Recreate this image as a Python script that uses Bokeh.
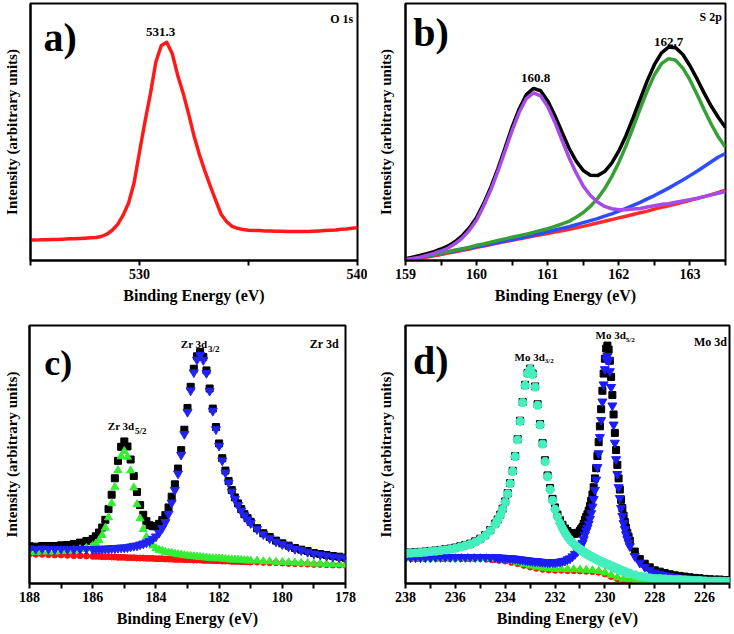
from bokeh.plotting import figure
from bokeh.layouts import column, row
from bokeh.models import Range1d, FixedTicker, Label
from bokeh.embed import file_html
from bokeh.resources import INLINE

SERIF = "'Liberation Serif', 'Times New Roman', serif"

# ---------------- panel a : O 1s ----------------
a_energy = [525.0, 525.25, 525.5, 525.75, 526.0, 526.25, 526.5, 526.75, 527.0, 527.25,
            527.5, 527.75, 528.0, 528.25, 528.5, 528.75, 529.0, 529.25, 529.5, 529.75,
            530.0, 530.25, 530.5, 530.75, 531.0, 531.25, 531.5, 531.75, 532.0, 532.25,
            532.5, 532.75, 533.0, 533.25, 533.5, 533.75, 534.0, 534.25, 534.5, 534.75,
            535.0, 535.25, 535.5, 535.75, 536.0, 536.25, 536.5, 536.75, 537.0, 537.25,
            537.5, 537.75, 538.0, 538.25, 538.5, 538.75, 539.0, 539.25, 539.5, 539.75, 540.0]
a_o1s = [62, 62, 63, 63, 64, 64, 65, 66, 66, 67,
         68, 69, 70, 73, 80, 92, 110, 138, 175, 236,
         330, 422, 507, 604, 654, 664, 630, 564, 510, 447,
         379, 322, 272, 226, 182, 140, 118, 104, 98, 94,
         92, 91, 91, 90, 90, 89, 89, 88, 88, 88,
         88, 88, 89, 90, 91, 92, 93, 95, 96, 98, 100]

# ---------------- panel b : S 2p ----------------
b_energy = [159.0, 159.1, 159.2, 159.3, 159.4, 159.5, 159.6, 159.7, 159.8, 159.9,
            160.0, 160.1, 160.2, 160.3, 160.4, 160.5, 160.6, 160.7, 160.8, 160.9,
            161.0, 161.1, 161.2, 161.3, 161.4, 161.5, 161.6, 161.7, 161.8, 161.9,
            162.0, 162.1, 162.2, 162.3, 162.4, 162.5, 162.6, 162.7, 162.8, 162.9,
            163.0, 163.1, 163.2, 163.3, 163.4, 163.5]
b_envelope = [5, 10, 15, 20, 26, 34, 43, 56, 74, 97, 127,
              169, 217, 272, 333, 395, 449, 491, 509, 502, 472,
              429, 380, 332, 294, 266, 252, 251, 263, 288, 324,
              369, 422, 477, 532, 579, 614, 631, 629, 609, 576,
              537, 495, 456, 423, 393]
b_s160 = [3, 6, 10, 15, 21, 28, 37, 50, 67, 90, 120,
          162, 209, 264, 324, 385, 439, 479, 496, 487, 455,
          409, 356, 304, 259, 220, 192, 173, 160, 153, 150,
          150, 152, 154, 158, 162, 166, 168, 172, 176, 180,
          184, 189, 194, 199, 204]
b_s162 = [2, 5, 10, 14, 18, 22, 26, 31, 35, 39, 45,
          49, 54, 59, 64, 69, 73, 78, 83, 89, 94,
          101, 108, 116, 128, 142, 160, 183, 212, 248, 290,
          339, 393, 449, 502, 549, 582, 597, 592, 569, 534,
          491, 446, 403, 365, 335]
b_bg_blue = [2, 5, 9, 13, 17, 21, 25, 29, 33, 37, 41,
             45, 49, 53, 58, 62, 66, 71, 75, 80, 85,
             90, 95, 100, 106, 112, 118, 124, 131, 138, 146,
             154, 163, 172, 182, 192, 203, 214, 226, 238, 251,
             264, 278, 292, 306, 316]
b_bg_red = [0, 2, 6, 10, 14, 18, 22, 26, 30, 34, 39,
            43, 47, 52, 56, 60, 64, 68, 72, 76, 80,
            84, 88, 92, 97, 101, 106, 111, 116, 121, 126,
            131, 136, 141, 146, 152, 157, 162, 167, 172, 178,
            183, 189, 195, 201, 208]

# ---------------- panel c : Zr 3d ----------------
c_energy = [178.0, 178.2, 178.4, 178.6, 178.8, 179.0, 179.2, 179.4, 179.6, 179.8,
            180.0, 180.2, 180.4, 180.6, 180.8,
            181.0, 181.1, 181.2, 181.3, 181.4, 181.5, 181.6, 181.7, 181.8, 181.9,
            182.0, 182.1, 182.2, 182.3, 182.4, 182.5, 182.6, 182.7, 182.8, 182.9,
            183.0, 183.1, 183.2, 183.3, 183.4, 183.5, 183.6, 183.7, 183.8, 183.9,
            184.0, 184.1, 184.2, 184.3, 184.4, 184.5, 184.6, 184.7, 184.8, 184.9,
            185.0, 185.1, 185.2, 185.3, 185.4, 185.5, 185.6, 185.7, 185.8, 185.9,
            186.0,
            186.2, 186.4, 186.6, 186.8, 187.0, 187.2, 187.4, 187.6, 187.8, 188.0]
c_total = [77, 80, 82, 85, 88, 91, 97, 101, 106, 113, 120, 128, 139, 150, 165,
           184, 195, 207, 222, 239, 257, 279, 306, 337, 374,
           418, 467, 522, 582, 636, 676, 691, 678, 641, 587,
           524, 459, 398, 343, 296, 259, 227, 204, 189, 178,
           171, 171, 174, 186, 205, 234, 273, 321, 370, 409,
           424, 408, 366, 314, 265, 222, 190, 167, 152, 141,
           133,
           127, 122, 118, 115, 114, 112, 112, 112, 110, 111]
c_zr32 = [75, 78, 80, 83, 86, 89, 94, 99, 103, 110, 117, 125, 135, 147, 162,
          180, 191, 203, 217, 234, 252, 274, 301, 331, 367,
          411, 460, 515, 575, 628, 667, 682, 668, 630, 576,
          512, 446, 384, 328, 279, 241, 208, 183, 165, 151,
          140, 133, 126, 122, 119, 116, 113, 112, 110, 108,
          107, 107, 106, 105, 105, 104, 104, 103, 103, 103,
          102,
          103, 103, 102, 102, 103, 102, 103, 104, 103, 104]
c_zr52 = [56, 57, 57, 58, 59, 59, 61, 61, 62, 63, 64, 64, 66, 66, 68,
          68, 69, 69, 70, 71, 71, 71, 72, 73, 74,
          75, 75, 75, 76, 77, 78, 79, 80, 81, 82,
          83, 84, 86, 87, 89, 91, 92, 94, 98, 100,
          105, 113, 123, 139, 162, 194, 236, 286, 337, 378,
          395, 379, 338, 288, 239, 197, 166, 144, 129, 119,
          112,
          106, 102, 99, 97, 96, 95, 95, 95, 94, 95]
c_bg = [54, 55, 55, 56, 57, 57, 58, 59, 59, 60, 61, 62, 62, 63, 64,
        64, 65, 65, 65, 66, 66, 66, 67, 67, 67,
        68, 68, 68, 69, 69, 69, 70, 70, 70, 71,
        71, 71, 72, 72, 72, 73, 73, 73, 74, 74,
        74, 75, 75, 75, 76, 76, 76, 77, 77, 77,
        78, 78, 78, 79, 79, 80, 80, 80, 81, 81,
        81,
        82, 83, 83, 84, 85, 85, 86, 87, 87, 88]

# ---------------- panel d : Mo 3d ----------------
d_energy = [238.0, 237.8, 237.6, 237.4, 237.2, 237.0, 236.8, 236.6, 236.4, 236.2,
            236.0, 235.8, 235.6, 235.4, 235.2, 235.0, 234.8, 234.6, 234.4,
            234.3, 234.2, 234.1, 234.0, 233.9, 233.8, 233.7, 233.6, 233.5, 233.4,
            233.3, 233.2, 233.1, 233.0, 232.9, 232.8, 232.7, 232.6, 232.5, 232.4,
            232.3, 232.2, 232.1, 232.0, 231.9, 231.8, 231.7, 231.6, 231.5, 231.4,
            231.3, 231.2, 231.1,
            231.0, 230.95, 230.9, 230.85, 230.8, 230.75, 230.7, 230.65, 230.6, 230.55,
            230.5, 230.45, 230.4, 230.35, 230.3, 230.25, 230.2, 230.15, 230.1, 230.05,
            230.0, 229.95, 229.9, 229.85, 229.8, 229.75, 229.7, 229.65, 229.6, 229.55,
            229.5, 229.45, 229.4, 229.35, 229.3, 229.25, 229.2, 229.15, 229.1, 229.05,
            229.0,
            228.8, 228.6, 228.4, 228.2, 228.0, 227.8, 227.6, 227.4, 227.2, 227.0,
            226.8, 226.6, 226.4, 226.2, 226.0, 225.8, 225.6, 225.4, 225.2, 225.0]
d_total = [93, 94, 95, 96, 97, 99, 100, 102, 104, 106, 109, 113, 117, 121, 128, 136, 147, 162, 182,
           194, 209, 227, 249, 274, 305, 342, 387, 438, 494, 551, 603, 639, 652, 637, 598,
           544, 484, 426, 374, 328, 290, 257, 231, 209, 192, 178, 167, 159, 153, 151, 151, 154,
           160, 166, 171, 181, 193, 202, 210, 221, 235, 251, 270, 292, 319, 350, 387, 429,
           477, 529, 585, 637, 682, 713, 722, 710, 676, 627, 572, 513, 457, 405, 360, 319,
           285, 254, 229, 206, 187, 169, 154, 142, 130,
           97, 74, 60, 49, 40, 36, 32, 28, 25, 23, 21, 19, 17, 16, 14, 13, 12, 12, 10, 10]
d_mo32 = [91, 92, 93, 94, 95, 97, 98, 100, 102, 104, 107, 111, 115, 119, 126, 134, 145, 160, 180,
          192, 207, 225, 247, 272, 303, 340, 385, 436, 492, 549, 601, 637, 650, 635, 596,
          541, 481, 423, 370, 324, 285, 252, 225, 202, 183, 167, 154, 142, 132, 124, 116, 110,
          104, 101, 98, 96, 93, 91, 88, 86, 84, 82, 80, 78, 76, 74, 72, 70,
          68, 66, 65, 63, 61, 60, 58, 57, 55, 53, 52, 50, 48, 46, 45, 43,
          42, 40, 39, 37, 36, 34, 32, 31, 30,
          26, 22, 20, 17, 15, 15, 14, 13, 12, 12, 11, 10, 9, 9, 8, 7, 7, 7, 6, 6]
d_mo52 = [79, 79, 79, 79, 79, 79, 80, 80, 80, 80, 80, 80, 80, 80, 80, 80, 80, 79, 79,
          79, 78, 78, 77, 77, 76, 76, 75, 74, 73, 72, 71, 70, 69, 68, 67,
          67, 66, 65, 65, 64, 64, 64, 64, 65, 66, 68, 69, 73, 76, 82, 89, 97,
          107, 116, 123, 134, 148, 159, 169, 181, 196, 213, 233, 256, 284, 315, 353, 395,
          444, 496, 552, 604, 650, 680, 690, 677, 644, 596, 540, 482, 427, 377, 332, 292,
          259, 229, 205, 183, 165, 149, 135, 124, 113,
          83, 63, 50, 41, 33, 29, 25, 22, 19, 17, 16, 14, 13, 11, 10, 9, 9, 8, 8, 7]
d_bg_energy = [238.0, 237.75, 237.5, 237.25, 237.0, 236.75, 236.5, 236.25, 236.0, 235.75,
               235.5, 235.25, 235.0, 234.75, 234.5, 234.25, 234.0, 233.75, 233.5, 233.25,
               233.0, 232.75, 232.5, 232.25, 232.0, 231.75, 231.5, 231.25, 231.0, 230.75,
               230.5, 230.25, 230.0, 229.75, 229.5, 229.25, 229.0, 228.75, 228.5, 228.25,
               228.0, 227.75, 227.5, 227.25, 227.0, 226.75, 226.5, 226.25, 226.0, 225.75,
               225.5, 225.25, 225.0]
d_bg_green = [78, 78, 78, 78, 78, 78, 78, 78, 78, 78, 78, 78, 78, 77, 76, 74, 72, 68, 64, 59,
              54, 50, 47, 45, 44, 44, 43, 43, 42, 41, 40, 38, 33, 25, 18, 14, 12, 11, 10, 9,
              8, 8, 7, 7, 6, 6, 6, 5, 5, 5, 5, 4, 4]
d_bg_red = [76, 76, 76, 76, 76, 76, 76, 76, 76, 76, 76, 76, 76, 74, 72, 70, 68, 64, 60, 55,
            50, 46, 43, 41, 40, 40, 39, 39, 38, 37, 36, 34, 29, 21, 14, 10, 9, 9, 8, 7,
            6, 6, 5, 5, 4, 4, 4, 3, 3, 3, 3, 2, 2]

# tick positions
a_major, a_minor = [530, 540], [525, 535]
b_major, b_minor = [159, 160, 161, 162, 163], [159.5, 160.5, 161.5, 162.5, 163.5]
c_major, c_minor = [188, 186, 184, 182, 180, 178], [187, 185, 183, 181, 179]
d_major, d_minor = [238, 236, 234, 232, 230, 228, 226], [237, 235, 233, 231, 229, 227, 225]


def make_panel(xr, yr, major, minor, borders, ystandoff):
    left, right, top, bottom = borders
    p = figure(width=367, height=317, x_range=Range1d(*xr), y_range=Range1d(*yr),
               output_backend="svg", toolbar_location=None, title=None,
               min_border_left=left, min_border_right=right,
               min_border_top=top, min_border_bottom=bottom)
    p.grid.visible = False
    p.background_fill_color = "white"
    p.border_fill_color = "white"
    p.outline_line_color = "black"
    p.outline_line_width = 2
    p.outline_line_alpha = 1.0
    xa = p.xaxis[0]
    xa.ticker = FixedTicker(ticks=major, minor_ticks=minor)
    xa.axis_label = "Binding Energy (eV)"
    xa.axis_line_width = 2
    xa.major_tick_line_width = 2
    xa.minor_tick_line_width = 2
    xa.major_tick_out = 5
    xa.major_tick_in = 0
    xa.minor_tick_out = 5
    xa.minor_tick_in = 0
    xa.minor_tick_line_color = "black"
    xa.major_label_text_font = SERIF
    xa.major_label_text_font_style = "bold"
    xa.major_label_text_font_size = "14px"
    xa.major_label_text_color = "black"
    xa.major_label_standoff = 3
    xa.axis_label_text_font = SERIF
    xa.axis_label_text_font_style = "bold"
    xa.axis_label_text_font_size = "16px"
    xa.axis_label_text_color = "black"
    xa.axis_label_standoff = 5
    ya = p.yaxis[0]
    ya.ticker = FixedTicker(ticks=[])
    ya.axis_label = "Intensity (arbitrary units)"
    ya.axis_line_width = 2
    ya.major_tick_out = 0
    ya.major_tick_in = 0
    ya.minor_tick_out = 0
    ya.minor_tick_in = 0
    ya.major_label_text_font_size = "0px"
    ya.major_label_standoff = 0
    ya.axis_label_text_font = SERIF
    ya.axis_label_text_font_style = "bold"
    ya.axis_label_text_font_size = "15px"
    ya.axis_label_text_color = "black"
    ya.axis_label_standoff = ystandoff
    return p


def lab(p, x, y, text, size, align="left", baseline="middle"):
    p.add_layout(Label(x=x, y=y, text=text, text_font=SERIF, text_font_style="bold",
                       text_font_size=size, text_align=align, text_baseline=baseline,
                       text_color="black"))


# ---- a ----
pa = make_panel((525, 540), (0, 782), a_major, a_minor, (30, 10, 3, 57), 11)
pa.line(a_energy, a_o1s, line_color="#ff1a1a", line_width=3.5, line_join="round")
lab(pa, 525.6, 748, "a)", "40px", baseline="top")
lab(pa, 530.97, 695, "531.3", "13px", align="center")
lab(pa, 539.8, 735, "O 1s", "12px", align="right")

# ---- b ----
pb = make_panel((159, 163.5), (0, 760), b_major, b_minor, (38, 9, 3, 57), 12)
pb.line(b_energy, b_bg_red, line_color="#ff2a2a", line_width=3.5)
pb.line(b_energy, b_bg_blue, line_color="#2b4cff", line_width=3.5)
pb.line(b_energy, b_s162, line_color="#35a035", line_width=3.5)
pb.line(b_energy, b_envelope, line_color="black", line_width=3.5)
pb.line(b_energy, b_s160, line_color="#a64ae8", line_width=3.5)
lab(pb, 159.11, 742, "b)", "40px", baseline="top")
lab(pb, 160.83, 540, "160.8", "13px", align="center")
lab(pb, 162.70, 645, "162.7", "13px", align="center")
lab(pb, 163.45, 720, "S 2p", "12px", align="right")

# ---- c ----
pc = make_panel((188, 178), (0, 770), c_major, c_minor, (28, 22, 8, 51), 10)
pc.scatter(c_energy, c_total, marker="square", size=7, color="black")
pc.scatter(c_energy, c_bg, marker="circle", size=6, color="#ff1010")
pc.scatter(c_energy, c_zr52, marker="triangle", size=8, color="#33ee33")
pc.scatter(c_energy, c_zr32, marker="inverted_triangle", size=9, color="#2323f0")
lab(pc, 187.53, 718, "c)", "36px", baseline="top")
lab(pc, 182.37, 715, "Zr 3d", "11px", align="right")
lab(pc, 182.35, 700, "3/2", "9px", align="left")
lab(pc, 184.68, 470, "Zr 3d", "11px", align="right")
lab(pc, 184.66, 455, "5/2", "9px", align="left")
lab(pc, 178.21, 715, "Zr 3d", "12px", align="right")

# ---- d ----
pd = make_panel((238, 225), (0, 783), d_major, d_minor, (38, 5, 8, 51), 12)
pd.scatter(d_energy, d_total, marker="square", size=7, color="black")
pd.scatter(d_bg_energy, d_bg_red, marker="circle", size=6, color="#ff1010")
pd.scatter(d_bg_energy, d_bg_green, marker="triangle", size=8, color="#30f020")
pd.scatter(d_energy, d_mo52, marker="inverted_triangle", size=9, color="#1c1cf5")
pd.scatter(d_energy, d_mo32, marker="hex", size=9, color="#45efbd")
lab(pd, 237.7, 746, "d)", "40px", baseline="top")
lab(pd, 232.41, 688, "Mo 3d", "11px", align="right")
lab(pd, 232.41, 675, "3/2", "7px", align="left")
lab(pd, 229.16, 753, "Mo 3d", "11px", align="right")
lab(pd, 229.16, 740, "5/2", "7px", align="left")
lab(pd, 225.1, 733, "Mo 3d", "12px", align="right")

layout = column(row(pa, pb), row(pc, pd))
open("out.html", "w").write(file_html(layout, INLINE))
